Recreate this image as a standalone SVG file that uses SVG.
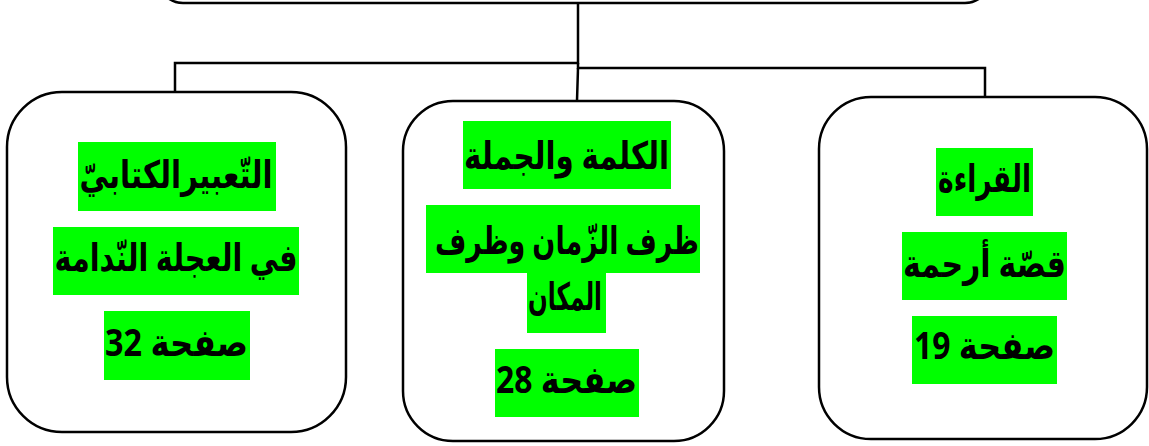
<svg xmlns="http://www.w3.org/2000/svg" width="1149" height="446" viewBox="0 0 1149 446">
<style>
.box{fill:#fff;stroke:#000;stroke-width:2.5}
.hl{fill:#00ff00}
.t{font-family:"Noto Sans","DejaVu Sans",sans-serif;font-weight:bold;font-size:38px;fill:#000;text-anchor:middle}
.c{fill:none;stroke:#000;stroke-width:2.5}
</style>
<rect width="1149" height="446" fill="#fff"/>
<g id="top"><rect class="box" x="158" y="-80" width="832" height="83" rx="25"/></g>
<g id="connectors">
<polyline class="c" points="578,3 578,63 175,63 175,93"/>
<polyline class="c" points="578,63 578,68 985,68 985,98"/>
<line class="c" x1="578" y1="68" x2="577" y2="101"/>
</g>
<g id="left">
<rect class="box" x="7" y="92" width="339" height="340" rx="55"/>
<rect class="hl" x="78" y="142" width="198" height="69"/>
<rect class="hl" x="53" y="227" width="246" height="68"/>
<rect class="hl" x="104" y="311" width="146" height="69"/>
<text class="t" x="176" y="188" direction="rtl" textLength="193" lengthAdjust="spacingAndGlyphs">التّعبيرالكتابيّ</text>
<text class="t" x="176" y="271" direction="rtl" textLength="243" lengthAdjust="spacingAndGlyphs">في العجلة النّدامة</text>
<text class="t" x="176.5" y="356" direction="rtl" textLength="143" lengthAdjust="spacingAndGlyphs">صفحة 32</text>
</g>
<g id="center">
<rect class="box" x="403" y="101" width="321" height="340" rx="50"/>
<rect class="hl" x="463" y="121" width="208" height="68"/>
<rect class="hl" x="426" y="205" width="274" height="68"/>
<rect class="hl" x="527" y="272" width="79" height="61"/>
<rect class="hl" x="495" y="349" width="144" height="68"/>
<text class="t" x="566.5" y="169" direction="rtl" textLength="205" lengthAdjust="spacingAndGlyphs">الكلمة والجملة</text>
<text class="t" x="567" y="254" direction="rtl" textLength="264" lengthAdjust="spacingAndGlyphs">ظرف الزّمان وظرف</text>
<text class="t" x="565" y="310" direction="rtl" textLength="74" lengthAdjust="spacingAndGlyphs">المكان</text>
<text class="t" x="566.5" y="393" direction="rtl" textLength="141" lengthAdjust="spacingAndGlyphs">صفحة 28</text>
</g>
<g id="right">
<rect class="box" x="819" y="97" width="328" height="342" rx="52"/>
<rect class="hl" x="936" y="148" width="97" height="68"/>
<rect class="hl" x="902" y="232" width="165" height="68"/>
<rect class="hl" x="912" y="316" width="145" height="68"/>
<text class="t" x="984.5" y="192" direction="rtl" textLength="93" lengthAdjust="spacingAndGlyphs">القراءة</text>
<text class="t" x="984.5" y="277" direction="rtl" textLength="163" lengthAdjust="spacingAndGlyphs">قصّة أرحمة</text>
<text class="t" x="984.5" y="359" direction="rtl" textLength="141" lengthAdjust="spacingAndGlyphs">صفحة 19</text>
</g>
</svg>
